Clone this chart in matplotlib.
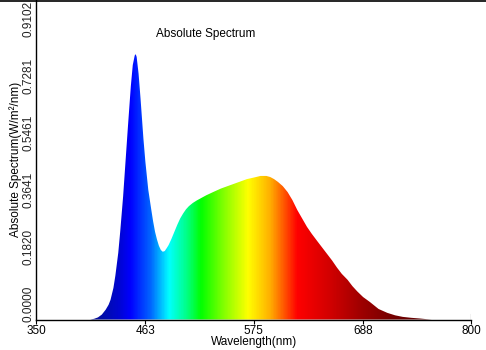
import matplotlib
matplotlib.use("Agg")
import matplotlib.pyplot as plt
import numpy as np
from matplotlib.colors import LinearSegmentedColormap
from matplotlib.lines import Line2D

plt.rcParams['font.family'] = ['Liberation Sans', 'DejaVu Sans']

# spectrum (nm, W/m2/nm)
wavelength = [406, 410, 414, 418, 422, 425, 427, 430, 432, 435, 437, 440, 442, 445,
              448, 450, 452, 453, 454, 456, 458, 461, 463, 466, 469, 471, 473, 475,
              477, 479, 481, 483, 485, 487, 490, 493, 496, 499, 502, 505, 508, 512,
              516, 520, 526, 533, 541, 551, 560, 568, 576, 582, 588, 592, 596, 600,
              605, 610, 615, 620, 625, 630, 635, 641, 646, 651, 656, 661, 666, 672,
              677, 682, 688, 695, 704, 713, 721, 729, 738, 747, 753, 759]
intensity = [0.0, 0.002, 0.006, 0.014, 0.028, 0.042, 0.056, 0.090, 0.125, 0.190,
             0.250, 0.350, 0.430, 0.550, 0.665, 0.725, 0.752, 0.756, 0.748, 0.700,
             0.630, 0.515, 0.450, 0.370, 0.315, 0.280, 0.250, 0.228, 0.210, 0.198,
             0.193, 0.195, 0.203, 0.212, 0.230, 0.250, 0.270, 0.288, 0.302, 0.314,
             0.323, 0.332, 0.339, 0.345, 0.354, 0.363, 0.373, 0.383, 0.392, 0.400,
             0.405, 0.409, 0.409, 0.406, 0.400, 0.392, 0.380, 0.363, 0.340, 0.312,
             0.288, 0.264, 0.244, 0.222, 0.204, 0.186, 0.168, 0.148, 0.130, 0.113,
             0.095, 0.080, 0.064, 0.050, 0.030, 0.019, 0.012, 0.0075, 0.0048, 0.0028,
             0.0012, 0.0]

x_ticks = [350, 463, 575, 688, 800]
y_ticks = [0.0000, 0.1820, 0.3641, 0.5461, 0.7281, 0.9102]
y_tick_labels = ["0.0000", "0.1820", "0.3641", "0.5461", "0.7281", "0.9102"]

# colour of the fill along the wavelength axis
color_nodes = [
    (350, (0.05, 0.05, 0.45)),
    (406, (0.03, 0.05, 0.55)),
    (420, (0.0, 0.05, 0.68)),
    (435, (0.0, 0.02, 0.82)),
    (447, (0.0, 0.0, 1.0)),
    (468, (0.0, 0.4, 1.0)),
    (487, (0.0, 1.0, 1.0)),
    (506, (0.0, 1.0, 0.5)),
    (520, (0.0, 1.0, 0.0)),
    (543, (0.5, 1.0, 0.0)),
    (569, (1.0, 1.0, 0.0)),
    (592, (1.0, 0.68, 0.0)),
    (620, (1.0, 0.0, 0.0)),
    (654, (0.82, 0.0, 0.0)),
    (685, (0.63, 0.0, 0.0)),
    (720, (0.45, 0.0, 0.0)),
    (760, (0.35, 0.0, 0.0)),
    (800, (0.3, 0.0, 0.0)),
]

x_min, x_max = 350, 800
y_max = 0.9102

cmap = LinearSegmentedColormap.from_list(
    "spec", [((w - x_min) / (x_max - x_min), c) for w, c in color_nodes])

fig = plt.figure(figsize=(4.86, 3.5), dpi=100)
ax = fig.add_axes([0.0741, 0.0871, 0.8960, 0.9129])

poly = ax.fill_between(wavelength, intensity, 0, color="none", lw=0)
grad = np.linspace(x_min, x_max, 900)[np.newaxis, :]
img = ax.imshow(grad, extent=[x_min, x_max, 0, y_max], aspect="auto",
                cmap=cmap, vmin=x_min, vmax=x_max, interpolation="bilinear",
                origin="lower")
img.set_clip_path(poly.get_paths()[0], transform=ax.transData)

ax.set_xlim(x_min, x_max)
ax.set_ylim(0, y_max)

for s in ["top", "right"]:
    ax.spines[s].set_visible(False)
ax.spines["left"].set_linewidth(1.0)
ax.spines["bottom"].set_linewidth(1.0)

ax.set_xticks(x_ticks)
ax.set_xticklabels([str(t) for t in x_ticks], fontsize=8.5)
ax.tick_params(axis="x", direction="out", length=3, width=0.8, pad=1)
ax.axvline(x_max, ymax=0.017, color="black", lw=0.8)

# y labels are spread evenly, the way the instrument software lays them out
ax.set_yticks([])
label_pos = np.linspace(0.05, 0.94, len(y_tick_labels))
for p, lab in zip(label_pos, y_tick_labels):
    ax.text(-0.004, p, lab, transform=ax.transAxes, rotation=90,
            ha="right", va="center", fontsize=8.5, color="#222222")

ax.set_xlabel("Wavelength(nm)", fontsize=8.5, labelpad=-1)
ax.set_ylabel("Absolute Spectrum(W/m²/nm)", fontsize=8.5, labelpad=10)
ax.text(0.39, 0.895, "Absolute Spectrum", transform=ax.transAxes,
        ha="center", va="center", fontsize=8.5)

fig.add_artist(Line2D([0, 1], [0.997, 0.997], transform=fig.transFigure,
                      color="black", lw=1.2))

fig.savefig("out.png", dpi=100)
